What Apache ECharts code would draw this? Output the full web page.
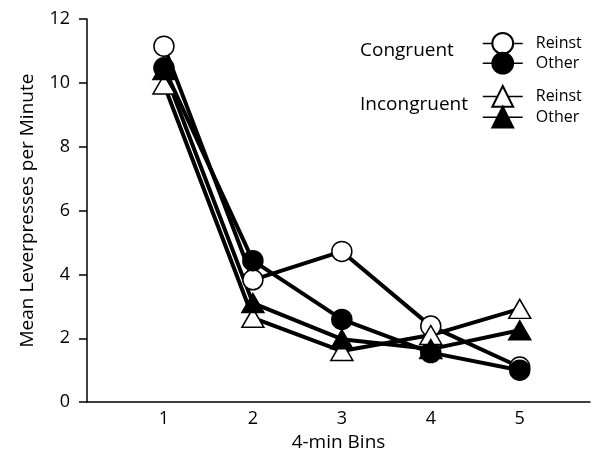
<!DOCTYPE html>
<html><head><meta charset="utf-8">
<script src="https://cdn.jsdelivr.net/npm/echarts@6/dist/echarts.min.js"></script>
<style>html,body{margin:0;padding:0;background:#fff}#c{width:592px;height:457px}</style>
</head><body><div id="c"></div>
<script>
const bins = [1, 2, 3, 4, 5];
const congruentReinst = [11.15, 3.83, 4.72, 2.38, 1.1];
const congruentOther = [10.47, 4.43, 2.59, 1.55, 1.0];
const incongruentReinst = [9.95, 2.64, 1.6, 2.1, 2.92];
const incongruentOther = [10.4, 3.1, 1.97, 1.66, 2.25];
const yTicks = [0, 2, 4, 6, 8, 10, 12];

const FONT = 'Open Sans';
const pairs = a => bins.map((b, i) => [b, a[i]]);
function mk(name, data, symbol, filled) {
  return {
    name, type: 'line', data: pairs(data), symbol,
    symbolSize: symbol === 'circle' ? 20 : [22, 19],
    lineStyle: { color: '#000', width: 4 },
    itemStyle: { color: filled ? '#000' : '#fff', borderColor: '#000', borderWidth: 1.5 },
    emphasis: { disabled: true }, animation: false
  };
}
const chart = echarts.init(document.getElementById('c'), null, { renderer: 'canvas' });
const legendCommon = {
  orient: 'vertical', left: 482, padding: 0, itemWidth: 40, itemHeight: 26,
  formatter: n => n.split(' ')[1],
  textStyle: { fontFamily: FONT, fontSize: 16, color: '#000', padding: [0, 0, 0, 8] },
  lineStyle: { width: 1.5 }, selectedMode: false
};
chart.setOption({
  animation: false,
  textStyle: { fontFamily: FONT },
  grid: { left: 87, right: 2, top: 19, bottom: 52 },
  xAxis: {
    type: 'value', min: 0.135, max: 5.79,
    name: '4-min Bins', nameLocation: 'middle', nameGap: 30,
    nameTextStyle: { fontFamily: FONT, fontSize: 19, color: '#000' },
    axisLine: { show: true, onZero: false, lineStyle: { color: '#000', width: 1.5 } },
    axisTick: { show: false },
    axisLabel: { customValues: bins, fontFamily: FONT, fontSize: 18, color: '#000', margin: 8 },
    splitLine: { show: false }
  },
  yAxis: {
    type: 'value', min: 0, max: 12, interval: 2,
    name: 'Mean Leverpresses per Minute', nameLocation: 'middle', nameGap: 50,
    nameTextStyle: { fontFamily: FONT, fontSize: 19, color: '#000' },
    axisLine: { show: true, lineStyle: { color: '#000', width: 1.5 } },
    axisTick: { show: true, length: 8, lineStyle: { color: '#000', width: 1.5 } },
    axisLabel: { fontFamily: FONT, fontSize: 18, color: '#000', margin: 17,
      formatter: v => yTicks.includes(v) ? String(v) : '' },
    splitLine: { show: false }
  },
  legend: [
    Object.assign({ top: 32, itemGap: -3, data: ['Congruent Reinst', 'Congruent Other'] }, legendCommon),
    Object.assign({ top: 85, itemGap: -2, data: ['Incongruent Reinst', 'Incongruent Other'] }, legendCommon)
  ],
  graphic: [
    { type: 'text', left: 360, top: 41, style: { text: 'Congruent', fontFamily: FONT, fontSize: 19, fill: '#000' } },
    { type: 'text', left: 360, top: 95, style: { text: 'Incongruent', fontFamily: FONT, fontSize: 19, fill: '#000' } }
  ],
  series: [
    mk('Congruent Reinst', congruentReinst, 'circle', false),
    mk('Congruent Other', congruentOther, 'circle', true),
    mk('Incongruent Reinst', incongruentReinst, 'triangle', false),
    mk('Incongruent Other', incongruentOther, 'triangle', true)
  ]
});
</script></body></html>
